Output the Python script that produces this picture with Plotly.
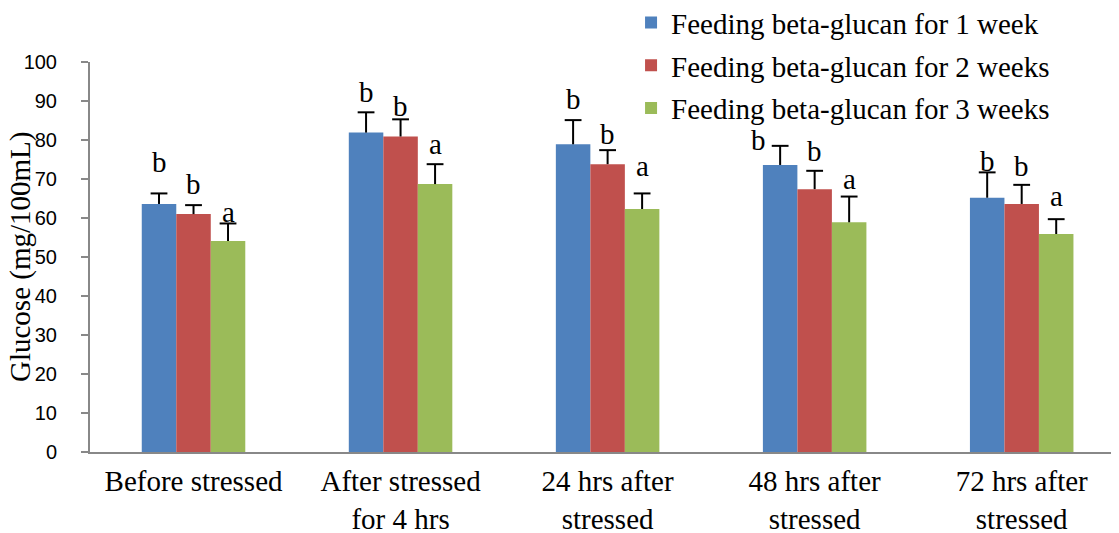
import plotly.graph_objects as go

categories = ["Before stressed", "After stressed<br>for 4 hrs", "24 hrs after<br>stressed",
              "48 hrs after<br>stressed", "72 hrs after<br>stressed"]
series_names = ["Feeding beta-glucan for 1 week", "Feeding beta-glucan for 2 weeks",
                "Feeding beta-glucan for 3 weeks"]
week1 = [63.6, 81.9, 78.9, 73.6, 65.2]
week2 = [61.0, 80.9, 73.8, 67.4, 63.6]
week3 = [54.1, 68.7, 62.3, 58.9, 55.9]
err1 = [2.7, 5.2, 6.2, 4.9, 6.5]
err2 = [2.3, 4.4, 3.6, 4.7, 4.9]
err3 = [4.5, 5.1, 4.0, 6.6, 3.8]
letters1 = ["b", "b", "b", "b", "b"]
letters2 = ["b", "b", "b", "b", "b"]
letters3 = ["a", "a", "a", "a", "a"]
y_ticks = [0, 10, 20, 30, 40, 50, 60, 70, 80, 90, 100]
y_title = "Glucose (mg/100mL)"

colors = ["#4F81BD", "#C0504D", "#9BBB59"]
values = [week1, week2, week3]
errors = [err1, err2, err3]
letters = [letters1, letters2, letters3]

# small pixel nudges of the hand-placed letter labels (series x group)
label_dy = [[13, 2, 3, -12, -7], [3, -5, -2, 2, 1], [-7, 2, 9, 0, 5]]
label_dx = [[0, 0, 0, -22, 0], [0, 0, 0, 0, 0], [0, 0, 0, 0, 0]]

serif = "Liberation Serif"
sans = "Liberation Sans"

fig = go.Figure()
xs = list(range(len(categories)))
bar_w = 0.5 / 3
for j in range(3):
    fig.add_trace(go.Bar(
        x=xs, y=values[j], name=series_names[j],
        marker=dict(color=colors[j], line=dict(width=0)),
        error_y=dict(type="data", symmetric=False, array=errors[j],
                     arrayminus=[0] * len(xs), color="black", thickness=2, width=0),
        legendgroup=str(j),
    ))
# caps of the error bars
for j in range(3):
    fig.add_trace(go.Scatter(
        x=[i + (j - 1) * bar_w for i in xs],
        y=[values[j][i] + errors[j][i] for i in xs],
        mode="markers", showlegend=False, hoverinfo="skip",
        marker=dict(symbol="line-ew", size=12, line=dict(color="black", width=2)),
    ))

for j in range(3):
    for i in xs:
        fig.add_annotation(
            x=i + (j - 1) * bar_w, y=values[j][i] + errors[j][i],
            xref="x", yref="y", text=letters[j][i], showarrow=False,
            yanchor="bottom", yshift=label_dy[j][i], xshift=label_dx[j][i],
            font=dict(family=serif, size=29, color="black"),
        )

# y-axis title
fig.add_annotation(
    x=0, y=0.5, xref="paper", yref="paper", xshift=-70, text=y_title,
    textangle=-90, showarrow=False, xanchor="center", yanchor="middle",
    font=dict(family=serif, size=29, color="black"),
)

fig.update_layout(
    width=1111, height=525,
    margin=dict(l=82, r=0, t=54, b=81, autoexpand=False),
    plot_bgcolor="white", paper_bgcolor="white",
    barmode="group", bargap=0.5, bargroupgap=0,
    showlegend=True,
    legend=dict(x=0.5258, y=1.166, xref="paper", yref="paper",
                xanchor="left", yanchor="top",
                font=dict(family=serif, size=29, color="black"),
                tracegroupgap=2, bgcolor="rgba(0,0,0,0)"),
    xaxis=dict(
        tickmode="array", tickvals=xs, ticktext=categories,
        range=[-0.5, 4.47], showline=True, linecolor="#888888", linewidth=2,
        ticks="", showgrid=False, zeroline=False, automargin=False,
        tickfont=dict(family=serif, size=29, color="black"),
        ticklabelstandoff=2,
    ),
    yaxis=dict(
        range=[0, 100], tickvals=y_ticks, showline=True, linecolor="#888888",
        linewidth=2, ticks="outside", ticklen=7, tickcolor="#888888", tickwidth=2,
        showgrid=False, zeroline=False, automargin=False,
        tickfont=dict(family=sans, size=20, color="black"),
        ticklabelstandoff=20,
    ),
)

fig.write_html("out.html")
